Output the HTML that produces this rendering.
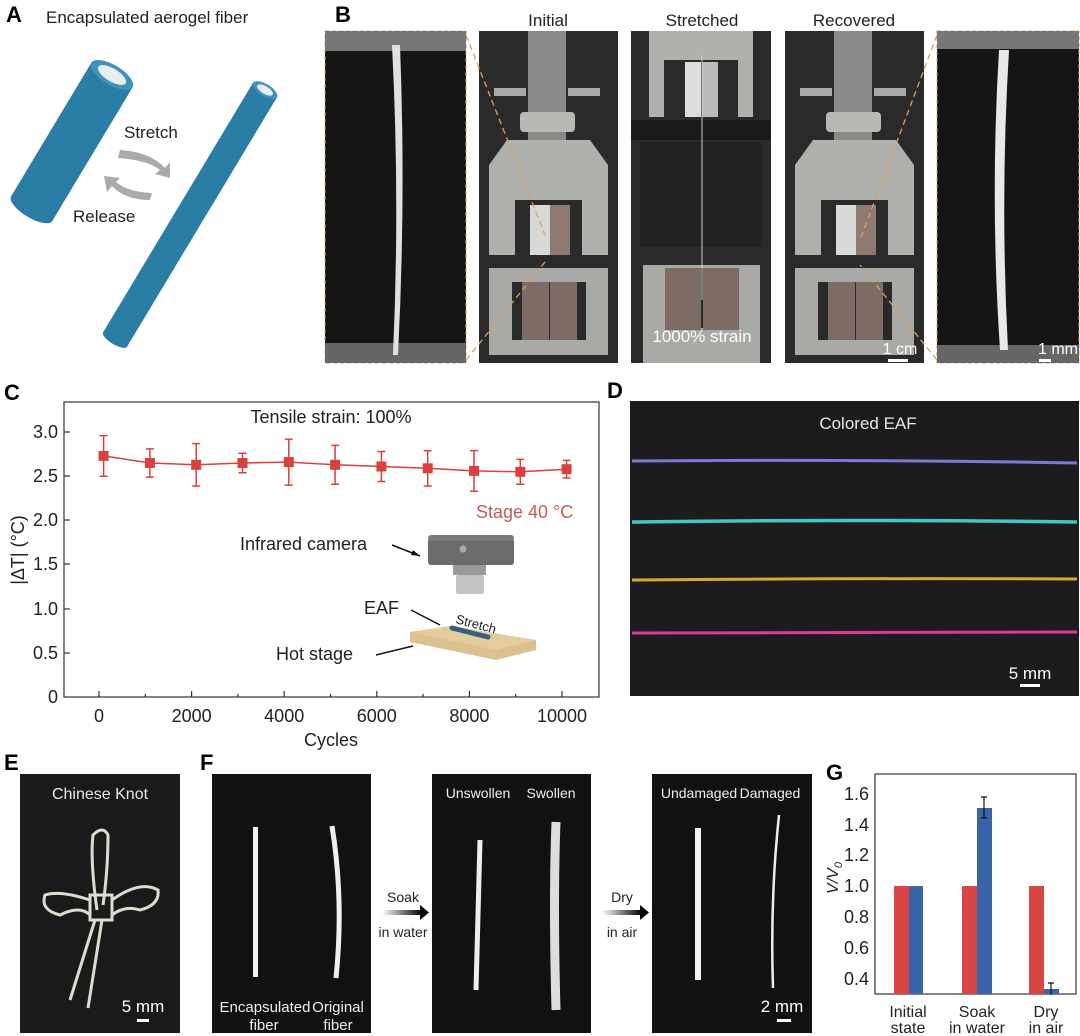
<!DOCTYPE html>
<html><head><meta charset="utf-8"><style>
html,body{margin:0;padding:0;background:#fff}
svg{display:block}
text{font-family:"Liberation Sans Narrow","Liberation Sans",sans-serif}
.L{font-family:"Liberation Sans",sans-serif;font-weight:bold;font-size:22px}
</style></head><body>
<svg width="1080" height="1036" viewBox="0 0 1080 1036" xmlns="http://www.w3.org/2000/svg">
<defs>
<linearGradient id="ar" x1="0" x2="1"><stop offset="0" stop-color="#fff"/><stop offset="1" stop-color="#000"/></linearGradient>
</defs>
<!-- A -->
<text class="L" x="6" y="22">A</text>
<text x="46" y="23" font-size="17" fill="#222">Encapsulated aerogel fiber</text>
<g transform="translate(112,75) rotate(31)"><rect x="-24" y="0" width="48" height="156" fill="#2a7ea6"/><ellipse cx="0" cy="156" rx="24" ry="9" fill="#2a7ea6"/><ellipse cx="0" cy="0" rx="24" ry="10" fill="#3d93ba"/><ellipse cx="0" cy="0" rx="16" ry="6.5" fill="#e8eef0"/></g>
<g transform="translate(265,90) rotate(31)"><rect x="-14" y="0" width="28" height="291" fill="#2a7ea6"/><ellipse cx="0" cy="291" rx="14" ry="5" fill="#2a7ea6"/><ellipse cx="0" cy="0" rx="14" ry="6" fill="#3d93ba"/><ellipse cx="0" cy="0" rx="9" ry="3.8" fill="#e8eef0"/></g>
<text x="124" y="138" font-size="17" fill="#222">Stretch</text>
<text x="73" y="222" font-size="17" fill="#222">Release</text>
<path d="M120,150 Q150,152 165,168 L170,162 L170,178 L155,174 L160,170 Q148,160 118,158 Z" fill="#aaa"/>
<path d="M150,200 Q125,200 112,186 L107,192 L104,176 L120,178 L116,182 Q128,192 152,193 Z" fill="#aaa"/>
<!-- B -->
<text class="L" x="335" y="22">B</text>
<text x="548" y="26" font-size="17" text-anchor="middle" fill="#222">Initial</text>
<text x="702" y="26" font-size="17" text-anchor="middle" fill="#222">Stretched</text>
<text x="854" y="26" font-size="17" text-anchor="middle" fill="#222">Recovered</text>
<rect x="325" y="31" width="141" height="332" fill="#151515" stroke="#d8a060" stroke-dasharray="4 3"/>
<rect x="325" y="31" width="141" height="20" fill="#777"/><rect x="325" y="343" width="141" height="20" fill="#666"/>
<path d="M392,45 Q400,200 393,355 L398,355 Q406,200 400,45 Z" fill="#e0e0e0"/>
<rect x="937" y="31" width="142" height="332" fill="#151515" stroke="#d8a060" stroke-dasharray="4 3"/>
<rect x="937" y="31" width="142" height="18" fill="#777"/><rect x="937" y="345" width="142" height="18" fill="#666"/>
<path d="M999,50 Q990,200 1000,350 L1008,350 Q1000,200 1009,50 Z" fill="#e8e8e8"/>
<text x="1058" y="354" font-size="16" text-anchor="middle" fill="#fff">1 mm</text><rect x="1039" y="359" width="12" height="3" fill="#fff"/>
<g id="mach">
<rect x="479" y="31" width="139" height="332" fill="#2a2a2a"/>
<rect x="528" y="31" width="38" height="110" fill="#8a8a88"/>
<rect x="494" y="88" width="32" height="8" fill="#aaa"/><rect x="568" y="88" width="32" height="8" fill="#aaa"/>
<rect x="520" y="112" width="55" height="20" rx="4" fill="#b8b8b4"/>
<path d="M507,140 L590,140 L608,165 L608,255 L582,255 L582,200 L515,200 L515,255 L489,255 L489,165 Z" fill="#b0b0ac"/>
<rect x="530" y="205" width="20" height="50" fill="#d8d8d6"/><rect x="550" y="205" width="20" height="50" fill="#8d7a72"/>
<path d="M489,268 L608,268 L608,355 L489,355 Z M512,282 L512,340 L586,340 L586,282 Z" fill="#a9a9a6" fill-rule="evenodd"/>
<rect x="522" y="282" width="27" height="58" fill="#7d6b65"/><rect x="550" y="282" width="27" height="58" fill="#7d6b65"/>
</g>
<use href="#mach" x="306"/>
<rect x="631" y="31" width="140" height="332" fill="#2a2a2a"/>
<path d="M649,31 L753,31 L753,117 L738,117 L738,60 L664,60 L664,117 L649,117 Z" fill="#b0b0ac"/>
<rect x="685" y="62" width="16" height="55" fill="#ddd"/><rect x="702" y="62" width="16" height="55" fill="#bbb"/>
<rect x="631" y="120" width="140" height="20" fill="#1a1a1a"/>
<rect x="640" y="142" width="122" height="105" fill="#222"/>
<path d="M643,265 L760,265 L760,363 L643,363 Z M665,268 L665,328 L738,328 L738,268 Z" fill="#a9a9a6" fill-rule="evenodd"/>
<rect x="665" y="268" width="36" height="62" fill="#7d6b65"/><rect x="703" y="268" width="36" height="62" fill="#7d6b65"/>
<line x1="702" y1="55" x2="702" y2="300" stroke="#ccc" stroke-width="1"/>
<text x="702" y="342" font-size="17" text-anchor="middle" fill="#fff">1000% strain</text>
<text x="900" y="354" font-size="16" text-anchor="middle" fill="#fff">1 cm</text><rect x="888" y="359" width="20" height="3" fill="#fff"/>
<path d="M466,35 L545,235 M466,360 L545,262" stroke="#e0a050" stroke-dasharray="6 4" stroke-width="1.3" fill="none"/>
<path d="M937,35 L860,240 M937,360 L860,265" stroke="#e0a050" stroke-dasharray="6 4" stroke-width="1.3" fill="none"/>
<!-- C -->
<text class="L" x="4" y="400">C</text>
<rect x="64" y="402" width="535" height="295" fill="none" stroke="#333" stroke-width="1.2"/>
<g stroke="#333" stroke-width="1.2">
<line x1="99" y1="697" x2="99" y2="691"/><line x1="145.3" y1="697" x2="145.3" y2="694"/><line x1="191.6" y1="697" x2="191.6" y2="691"/><line x1="237.9" y1="697" x2="237.9" y2="694"/><line x1="284.2" y1="697" x2="284.2" y2="691"/><line x1="330.5" y1="697" x2="330.5" y2="694"/><line x1="376.8" y1="697" x2="376.8" y2="691"/><line x1="423.1" y1="697" x2="423.1" y2="694"/><line x1="469.4" y1="697" x2="469.4" y2="691"/><line x1="515.7" y1="697" x2="515.7" y2="694"/><line x1="562" y1="697" x2="562" y2="691"/>
<line x1="64" y1="432" x2="70" y2="432"/><line x1="64" y1="476" x2="70" y2="476"/><line x1="64" y1="520" x2="70" y2="520"/><line x1="64" y1="564" x2="70" y2="564"/><line x1="64" y1="609" x2="70" y2="609"/><line x1="64" y1="653" x2="70" y2="653"/>
</g>
<g font-size="18" fill="#222" text-anchor="end">
<text x="58" y="438">3.0</text><text x="58" y="482">2.5</text><text x="58" y="526">2.0</text><text x="58" y="570">1.5</text><text x="58" y="615">1.0</text><text x="58" y="659">0.5</text><text x="58" y="703">0</text>
</g>
<g font-size="18" fill="#222" text-anchor="middle">
<text x="99" y="722">0</text><text x="191.6" y="722">2000</text><text x="284.2" y="722">4000</text><text x="376.8" y="722">6000</text><text x="469.4" y="722">8000</text><text x="562" y="722">10000</text>
<text x="331" y="746">Cycles</text>
<text x="331" y="423">Tensile strain: 100%</text>
</g>
<text transform="translate(24,550) rotate(-90)" font-size="18" fill="#222" text-anchor="middle">|ΔT| (°C)</text>
<text x="476" y="518" font-size="18" fill="#c65a5a">Stage 40 °C</text>
<g stroke="#d9413f" stroke-width="1.5" fill="none">
<polyline points="103.6,455.9 149.9,463 196.2,464.8 242.5,463 288.8,462.1 335.1,464.8 381.4,466.5 427.7,468.3 474,470.9 520.3,471.8 566.6,469.2"/>
<path d="M103.6,435.6V476.2M99.6,435.6h8M99.6,476.2h8 M149.9,448.9V477.1M145.9,448.9h8M145.9,477.1h8 M196.2,443.6V486M192.2,443.6h8M192.2,486h8 M242.5,453.3V472.7M238.5,453.3h8M238.5,472.7h8 M288.8,439.1V485.1M284.8,439.1h8M284.8,485.1h8 M335.1,445.4V484.2M331.1,445.4h8M331.1,484.2h8 M381.4,451.5V481.5M377.4,451.5h8M377.4,481.5h8 M427.7,450.6V486M423.7,450.6h8M423.7,486h8 M474,450.6V491.2M470,450.6h8M470,491.2h8 M520.3,459.4V484.2M516.3,459.4h8M516.3,484.2h8 M566.6,460.4V478M562.6,460.4h8M562.6,478h8"/>
</g>
<g fill="#d9413f">
<rect x="98.6" y="450.9" width="10" height="10"/><rect x="144.9" y="458" width="10" height="10"/><rect x="191.2" y="459.8" width="10" height="10"/><rect x="237.5" y="458" width="10" height="10"/><rect x="283.8" y="457.1" width="10" height="10"/><rect x="330.1" y="459.8" width="10" height="10"/><rect x="376.4" y="461.5" width="10" height="10"/><rect x="422.7" y="463.3" width="10" height="10"/><rect x="469" y="465.9" width="10" height="10"/><rect x="515.3" y="466.8" width="10" height="10"/><rect x="561.6" y="464.2" width="10" height="10"/>
</g>
<text x="240" y="550" font-size="18" fill="#222">Infrared camera</text>
<path d="M392,545 L420,556" stroke="#111" stroke-width="1.5"/><path d="M420,556 l-7,-6 l-2,5 z" fill="#111"/>
<rect x="428" y="538" width="86" height="27" rx="3" fill="#6b6b6b"/><rect x="428" y="535" width="86" height="6" rx="3" fill="#7c7c7c"/>
<circle cx="463" cy="549" r="3.5" fill="#aaa"/>
<rect x="453" y="565" width="33" height="10" fill="#9a9a9a"/><rect x="456" y="575" width="28" height="19" rx="2" fill="#c4c4c4"/>
<text x="364" y="614" font-size="18" fill="#222">EAF</text>
<path d="M411,610 L440,625" stroke="#111" stroke-width="1.5"/>
<path d="M410,632 L450,626 L536,640 L536,650 L496,660 L410,642 Z" fill="#dcc08f"/>
<path d="M410,632 L450,626 L536,640 L496,650 Z" fill="#e5cc9c"/>
<path d="M452,628 L488,637" stroke="#3a5d85" stroke-width="5" stroke-linecap="round"/>
<text x="455" y="623" font-size="13" fill="#222" transform="rotate(15 455 623)">Stretch</text>
<text x="276" y="660" font-size="18" fill="#222">Hot stage</text>
<path d="M376,655 L413,646" stroke="#111" stroke-width="1.5"/>
<!-- D -->
<text class="L" x="607" y="398">D</text>
<rect x="630" y="401" width="449" height="295" fill="#1c1c1e"/>
<text x="868" y="429" font-size="17" text-anchor="middle" fill="#e8e8e8">Colored EAF</text>
<path d="M632,461 Q850,459 1077,463" stroke="#7c78d8" stroke-width="3" fill="none"/>
<path d="M632,522 Q850,519 1077,522" stroke="#3fc8c8" stroke-width="3.5" fill="none"/>
<path d="M632,580 Q850,578 1077,579" stroke="#d8a830" stroke-width="3" fill="none"/>
<path d="M632,633 Q850,632 1077,632" stroke="#e0389a" stroke-width="3" fill="none"/>
<text x="1030" y="679" font-size="17" text-anchor="middle" fill="#fff">5 mm</text><rect x="1020" y="684" width="20" height="3" fill="#fff"/>
<!-- E -->
<text class="L" x="4" y="770">E</text>
<rect x="20" y="774" width="160" height="259" fill="#1a1a1a"/>
<text x="100" y="799" font-size="16" text-anchor="middle" fill="#e8e8e8">Chinese Knot</text>
<g stroke="#dcdcd0" stroke-width="3" fill="none">
<path d="M97,910 Q90,860 93,835 Q103,825 108,835 Q108,870 103,905"/>
<path d="M90,900 Q60,890 45,895 Q40,910 60,915 Q80,905 90,915"/>
<path d="M112,900 Q140,880 158,890 Q160,905 140,910 Q125,905 112,915"/>
<path d="M95,920 L70,1000 M102,920 L88,1008"/>
<rect x="90" y="895" width="22" height="25"/>
</g>
<text x="143" y="1012" font-size="17" text-anchor="middle" fill="#fff">5 mm</text><rect x="137" y="1019" width="12" height="3" fill="#fff"/>
<!-- F -->
<text class="L" x="200" y="770">F</text>
<rect x="212" y="774" width="159" height="259" fill="#111"/>
<rect x="432" y="774" width="159" height="259" fill="#111"/>
<rect x="652" y="774" width="160" height="259" fill="#111"/>
<rect x="253" y="827" width="5" height="150" fill="#f2f2f2"/>
<path d="M332,826 Q344,900 336,978" stroke="#f0f0f0" stroke-width="5" fill="none"/>
<text x="265" y="1012" font-size="15" text-anchor="middle" fill="#eee">Encapsulated</text><text x="264" y="1030" font-size="15" text-anchor="middle" fill="#eee">fiber</text>
<text x="338" y="1012" font-size="15" text-anchor="middle" fill="#eee">Original</text><text x="338" y="1030" font-size="15" text-anchor="middle" fill="#eee">fiber</text>
<text x="478" y="798" font-size="14" text-anchor="middle" fill="#eee">Unswollen</text><text x="551" y="798" font-size="14" text-anchor="middle" fill="#eee">Swollen</text>
<path d="M480,840 L476,990" stroke="#eee" stroke-width="5"/>
<path d="M556,822 Q553,900 556,1010" stroke="#ddd" stroke-width="9" fill="none"/>
<text x="699" y="798" font-size="14" text-anchor="middle" fill="#eee">Undamaged</text><text x="770" y="798" font-size="14" text-anchor="middle" fill="#eee">Damaged</text>
<rect x="695" y="828" width="6" height="152" fill="#f4f4f4"/>
<path d="M779,815 Q770,900 773,988" stroke="#eee" stroke-width="2.5" fill="none"/>
<text x="782" y="1012" font-size="17" text-anchor="middle" fill="#fff">2 mm</text><rect x="777" y="1019" width="14" height="3" fill="#fff"/>
<text x="403" y="902" font-size="14" text-anchor="middle" fill="#222">Soak</text>
<text x="403" y="937" font-size="14" text-anchor="middle" fill="#222">in water</text>
<rect x="382" y="910" width="40" height="5" fill="url(#ar)"/><path d="M420,905 l9,7.5 l-9,7.5 z" fill="#000"/>
<text x="622" y="902" font-size="14" text-anchor="middle" fill="#222">Dry</text>
<text x="622" y="937" font-size="14" text-anchor="middle" fill="#222">in air</text>
<rect x="602" y="910" width="40" height="5" fill="url(#ar)"/><path d="M640,905 l9,7.5 l-9,7.5 z" fill="#000"/>
<!-- G -->
<text class="L" x="826" y="780">G</text>
<rect x="875" y="774" width="201" height="220" fill="none" stroke="#333" stroke-width="1.2"/>
<g font-size="18" fill="#222" text-anchor="end">
<text x="869" y="800">1.6</text><text x="869" y="831">1.4</text><text x="869" y="861">1.2</text><text x="869" y="892">1.0</text><text x="869" y="923">0.8</text><text x="869" y="954">0.6</text><text x="869" y="985">0.4</text>
</g>
<text transform="translate(838,878) rotate(-90)" font-size="16" fill="#222" text-anchor="middle" font-style="italic">V/V<tspan font-size="11" dy="4">0</tspan></text>
<g fill="#d94444"><rect x="894" y="886" width="15" height="108"/><rect x="962" y="886" width="15" height="108"/><rect x="1029" y="886" width="15" height="108"/></g>
<g fill="#3a64a8"><rect x="909" y="886" width="14" height="108"/><rect x="977" y="808" width="15" height="186"/><rect x="1044" y="989" width="15" height="5"/></g>
<path d="M984,797V818M981,797h6M981,818h6 M1051,983V995M1048,983h6" stroke="#111" stroke-width="1.2"/>
<g font-size="16" fill="#222" text-anchor="middle">
<text x="908" y="1017">Initial</text><text x="908" y="1033">state</text>
<text x="977" y="1017">Soak</text><text x="977" y="1033">in water</text>
<text x="1046" y="1017">Dry</text><text x="1046" y="1033">in air</text>
</g>
</svg>
</body></html>
